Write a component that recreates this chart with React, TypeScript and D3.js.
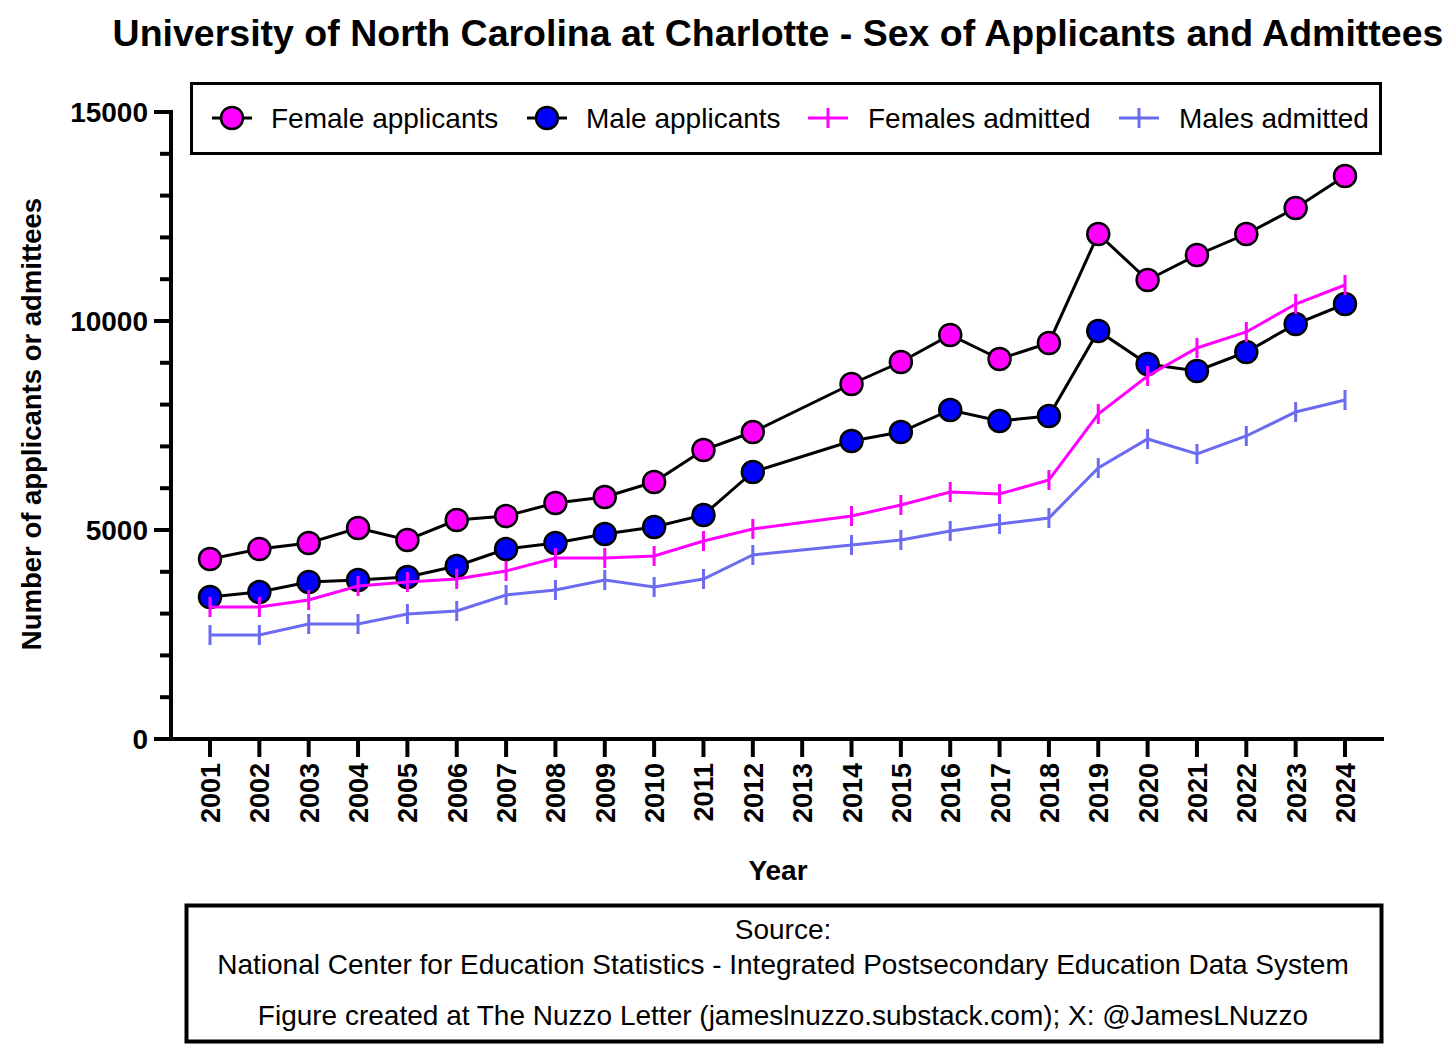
import React from "react";
import * as d3 from "d3";

const years = [2001, 2002, 2003, 2004, 2005, 2006, 2007, 2008, 2009, 2010, 2011, 2012, 2014, 2015, 2016, 2017, 2018, 2019, 2020, 2021, 2022, 2023, 2024];
const yearTicks = d3.range(2001, 2025);
const femaleApplicants = [4306, 4545, 4689, 5048, 4761, 5239, 5335, 5646, 5789, 6148, 6914, 7344, 8493, 9019, 9665, 9091, 9474, 12081, 10981, 11579, 12081, 12703, 13469];
const maleApplicants = [3397, 3517, 3756, 3804, 3876, 4139, 4545, 4689, 4904, 5072, 5359, 6388, 7129, 7344, 7871, 7608, 7727, 9761, 8971, 8804, 9258, 9928, 10407];
const femalesAdmitted = [3158, 3158, 3325, 3660, 3756, 3828, 4019, 4330, 4330, 4378, 4737, 5024, 5335, 5598, 5909, 5861, 6196, 7775, 8684, 9354, 9737, 10407, 10861];
const malesAdmitted = [2488, 2488, 2751, 2751, 2990, 3062, 3445, 3565, 3804, 3636, 3828, 4402, 4641, 4761, 4976, 5144, 5287, 6483, 7177, 6818, 7249, 7823, 8110];
const yMajorTicks = [0, 5000, 10000, 15000];
const yMinorTicks = d3.range(0, 15001, 1000);

const FONT = "'Liberation Sans', Arial, Helvetica, sans-serif";
const PINK = "#ff00ff";
const BLUE = "#0000ff";
const LIGHTBLUE = "#6b6bf2";

export default function App() {
  const W = 1456, H = 1047;
  const x = d3.scaleLinear().domain([2001, 2024]).range([210, 1345]);
  const y = d3.scaleLinear().domain([0, 15000]).range([739, 112]);
  const axisX0 = 171;
  const axisX1 = 1384;
  const axisY = 739;

  const line = (vals: number[]) =>
    d3.line<number>().x((_, i) => x(years[i])).y((v) => y(v))(vals) || "";

  const circles = (vals: number[], fill: string) =>
    vals.map((v, i) => (
      <circle key={i} cx={x(years[i])} cy={y(v)} r={11} fill={fill} stroke="#000" strokeWidth={2.5} />
    ));

  const pluses = (vals: number[], color: string) =>
    vals.map((v, i) => (
      <line key={i} x1={x(years[i])} x2={x(years[i])} y1={y(v) - 10} y2={y(v) + 10} stroke={color} strokeWidth={3} />
    ));

  const legendY = 118;

  return (
    <svg width={W} height={H} style={{ position: "absolute", left: 0, top: 0, background: "#fff" }} fontFamily={FONT}>
      <rect x={0} y={0} width={W} height={H} fill="#fff" />
      {/* Title */}
      <text x={778} y={46} textAnchor="middle" fontSize={37.5} fontWeight="bold">
        University of North Carolina at Charlotte - Sex of Applicants and Admittees
      </text>

      {/* Legend */}
      <rect x={191.5} y={83.5} width={1189} height={70} fill="#fff" stroke="#000" strokeWidth={3} />
      <line x1={212} x2={252} y1={legendY} y2={legendY} stroke="#000" strokeWidth={3} />
      <circle cx={232} cy={legendY} r={11} fill={PINK} stroke="#000" strokeWidth={2.5} />
      <text x={271} y={legendY + 10} fontSize={28}>Female applicants</text>
      <line x1={527} x2={567} y1={legendY} y2={legendY} stroke="#000" strokeWidth={3} />
      <circle cx={547} cy={legendY} r={11} fill={BLUE} stroke="#000" strokeWidth={2.5} />
      <text x={586} y={legendY + 10} fontSize={28}>Male applicants</text>
      <line x1={808} x2={848} y1={legendY} y2={legendY} stroke={PINK} strokeWidth={3} />
      <line x1={828} x2={828} y1={legendY - 10} y2={legendY + 10} stroke={PINK} strokeWidth={3} />
      <text x={868} y={legendY + 10} fontSize={28}>Females admitted</text>
      <line x1={1119} x2={1159} y1={legendY} y2={legendY} stroke={LIGHTBLUE} strokeWidth={3} />
      <line x1={1139} x2={1139} y1={legendY - 10} y2={legendY + 10} stroke={LIGHTBLUE} strokeWidth={3} />
      <text x={1179} y={legendY + 10} fontSize={28}>Males admitted</text>

      {/* Y axis */}
      <line x1={axisX0} x2={axisX0} y1={y(15000) - 2} y2={axisY + 2} stroke="#000" strokeWidth={4} />
      {yMinorTicks.map((t) => (
        <line key={t} x1={yMajorTicks.includes(t) ? 154 : 160} x2={axisX0} y1={y(t)} y2={y(t)} stroke="#000" strokeWidth={4} />
      ))}
      {yMajorTicks.map((t) => (
        <text key={t} x={148} y={y(t) + 10} textAnchor="end" fontSize={28} fontWeight="bold">
          {t}
        </text>
      ))}
      <text transform={`translate(41,424) rotate(-90)`} textAnchor="middle" fontSize={27.5} fontWeight="bold">
        Number of applicants or admittees
      </text>

      {/* X axis */}
      <line x1={axisX0 - 2} x2={axisX1} y1={axisY} y2={axisY} stroke="#000" strokeWidth={4} />
      {yearTicks.map((t) => (
        <g key={t}>
          <line x1={x(t)} x2={x(t)} y1={axisY} y2={757} stroke="#000" strokeWidth={4} />
          <text transform={`translate(${x(t) + 10},763) rotate(-90)`} textAnchor="end" fontSize={27} fontWeight="bold">
            {t}
          </text>
        </g>
      ))}
      <text x={778} y={880} textAnchor="middle" fontSize={28} fontWeight="bold">Year</text>

      {/* Applicant series */}
      <path d={line(femaleApplicants)} fill="none" stroke="#000" strokeWidth={3} />
      {circles(femaleApplicants, PINK)}
      <path d={line(maleApplicants)} fill="none" stroke="#000" strokeWidth={3} />
      {circles(maleApplicants, BLUE)}

      {/* Admitted series */}
      <path d={line(femalesAdmitted)} fill="none" stroke={PINK} strokeWidth={3} />
      {pluses(femalesAdmitted, PINK)}
      <path d={line(malesAdmitted)} fill="none" stroke={LIGHTBLUE} strokeWidth={3} />
      {pluses(malesAdmitted, LIGHTBLUE)}

      {/* Source box */}
      <rect x={186.5} y={905.5} width={1195} height={136} fill="#fff" stroke="#000" strokeWidth={4} />
      <text x={783} y={939} textAnchor="middle" fontSize={28}>Source:</text>
      <text x={783} y={974} textAnchor="middle" fontSize={28}>
        National Center for Education Statistics - Integrated Postsecondary Education Data System
      </text>
      <text x={783} y={1025} textAnchor="middle" fontSize={28}>
        Figure created at The Nuzzo Letter (jameslnuzzo.substack.com); X: @JamesLNuzzo
      </text>
    </svg>
  );
}
